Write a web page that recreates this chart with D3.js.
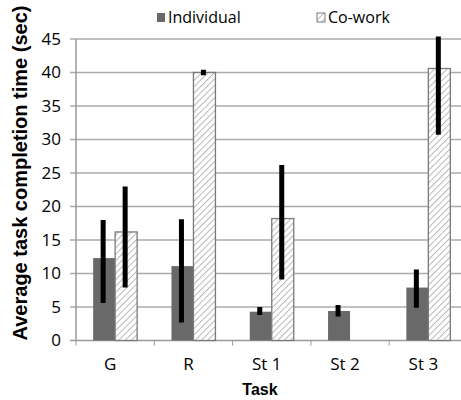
<!DOCTYPE html>
<html>
<head>
<meta charset="utf-8">
<script src="https://cdn.jsdelivr.net/npm/d3@7"></script>
<style>
    body { margin: 0; background: #fff; }
    .chart-label { font-family: "Open Sans", sans-serif; font-size: 17px; fill: #000; }
    .chart-legend { font-family: "Open Sans", sans-serif; font-size: 16px; fill: #000; }
    .chart-title { font-family: "Liberation Sans", Arial, sans-serif; font-weight: bold; fill: #000; }
</style>
</head>
<body>
<div id="chart"></div>
<script>
// Data
var tasks = ["G", "R", "St 1", "St 2", "St 3"];
var seriesNames = ["Individual", "Co-work"];
var individual = [12.3, 11.1, 4.3, 4.4, 7.9];
var cowork = [16.2, 40.0, 18.2, null, 40.6];
var individualLow = [5.6, 2.7, 3.8, 3.6, 4.9];
var individualHigh = [18.0, 18.1, 5.0, 5.3, 10.6];
var coworkLow = [7.9, 39.6, 9.1, null, 30.7];
var coworkHigh = [23.0, 40.4, 26.2, null, 50.5];
var yTicks = [0, 5, 10, 15, 20, 25, 30, 35, 40, 45];

var width = 461, height = 400;
var margin = { top: 39, right: -6.5, bottom: 59.5, left: 76 };

var svg = d3.select("#chart").append("svg")
    .attr("width", width)
    .attr("height", height);

// Hatch pattern for co-work bars
var defs = svg.append("defs");
defs.append("pattern")
    .attr("id", "hatch")
    .attr("patternUnits", "userSpaceOnUse")
    .attr("width", 4.5)
    .attr("height", 4.5)
    .attr("patternTransform", "rotate(45)")
    .call(function (p) {
        p.append("rect").attr("width", 4.5).attr("height", 4.5).attr("fill", "#fff");
        p.append("line").attr("x1", 0).attr("y1", 0).attr("x2", 0).attr("y2", 4.5)
            .attr("stroke", "#b8b8b8").attr("stroke-width", 2);
    });
defs.append("clipPath").attr("id", "plotClip")
    .append("rect")
    .attr("x", 0).attr("y", margin.top - 2.5)
    .attr("width", width).attr("height", height);

// Scales
var x0 = d3.scaleBand()
    .domain(tasks)
    .range([margin.left, width - margin.right])
    .paddingInner(0)
    .paddingOuter(0);
var x1 = d3.scaleBand()
    .domain(seriesNames)
    .range([0, x0.bandwidth()])
    .paddingInner(0)
    .paddingOuter(0.78);
var y = d3.scaleLinear()
    .domain([0, 45])
    .range([height - margin.bottom, margin.top]);

// Gridlines + y ticks
svg.append("g").selectAll("line")
    .data(yTicks)
    .enter()
    .append("line")
    .attr("x1", margin.left - 6)
    .attr("x2", width)
    .attr("y1", function (d) { return y(d); })
    .attr("y2", function (d) { return y(d); })
    .attr("stroke", function (d) { return d === 0 ? "#9a9a9a" : "#ababab"; })
    .attr("stroke-width", 1.5);

svg.append("g").selectAll("text")
    .data(yTicks)
    .enter()
    .append("text")
    .attr("class", "chart-label")
    .attr("x", margin.left - 15)
    .attr("y", function (d) { return y(d); })
    .attr("dy", "0.35em")
    .style("text-anchor", "end")
    .text(function (d) { return d; });

// Axis lines
svg.append("line")
    .attr("x1", margin.left).attr("x2", margin.left)
    .attr("y1", y(45)).attr("y2", y(0))
    .attr("stroke", "#9a9a9a").attr("stroke-width", 1.5);

var boundaries = tasks.map(function (t) { return x0(t); }).concat([x0(tasks[tasks.length - 1]) + x0.bandwidth()]);
svg.append("g").selectAll("line")
    .data(boundaries)
    .enter()
    .append("line")
    .attr("x1", function (d) { return d; })
    .attr("x2", function (d) { return d; })
    .attr("y1", y(0))
    .attr("y2", y(0) + 5)
    .attr("stroke", "#9a9a9a").attr("stroke-width", 1);

// Bars
var seriesData = [
    { name: "Individual", values: individual, low: individualLow, high: individualHigh },
    { name: "Co-work", values: cowork, low: coworkLow, high: coworkHigh }
];

var plot = svg.append("g").attr("clip-path", "url(#plotClip)");

seriesData.forEach(function (s) {
    var rows = tasks.map(function (t, i) {
        return { task: t, v: s.values[i], lo: s.low[i], hi: s.high[i] };
    }).filter(function (d) { return d.v != null; });

    plot.append("g").selectAll("rect")
        .data(rows)
        .enter()
        .append("rect")
        .attr("x", function (d) { return x0(d.task) + x1(s.name); })
        .attr("y", function (d) { return y(d.v); })
        .attr("width", x1.bandwidth())
        .attr("height", function (d) { return y(0) - y(d.v); })
        .attr("fill", s.name === "Individual" ? "#696969" : "url(#hatch)")
        .attr("stroke", s.name === "Individual" ? "none" : "#7a7a7a")
        .attr("stroke-width", 1.3);

    // Error bars
    plot.append("g").selectAll("line")
        .data(rows)
        .enter()
        .append("line")
        .attr("x1", function (d) { return x0(d.task) + x1(s.name) + x1.bandwidth() / 2 - 1; })
        .attr("x2", function (d) { return x0(d.task) + x1(s.name) + x1.bandwidth() / 2 - 1; })
        .attr("y1", function (d) { return y(d.lo); })
        .attr("y2", function (d) { return y(d.hi); })
        .attr("stroke", "#000")
        .attr("stroke-width", 5);
});

// Category labels
svg.append("g").selectAll("text")
    .data(tasks)
    .enter()
    .append("text")
    .attr("class", "chart-label")
    .attr("x", function (d) { return x0(d) + x0.bandwidth() / 2 - 5; })
    .attr("y", 370)
    .style("text-anchor", "middle")
    .text(function (d) { return d; });

// Axis titles
svg.append("text")
    .attr("class", "chart-title")
    .attr("x", 260)
    .attr("y", 395)
    .style("font-size", "16px")
    .style("text-anchor", "middle")
    .text("Task");

svg.append("text")
    .attr("class", "chart-title")
    .attr("transform", "translate(27,173) rotate(-90)")
    .style("font-size", "20px")
    .style("text-anchor", "middle")
    .text("Average task completion time (sec)");

// Legend
var legendX = [157, 317];
var legend = svg.append("g").selectAll("g")
    .data(seriesNames)
    .enter()
    .append("g")
    .attr("transform", function (d, i) { return "translate(" + legendX[i] + ",13)"; });
legend.append("rect")
    .attr("width", 8)
    .attr("height", 9)
    .attr("fill", function (d) { return d === "Individual" ? "#696969" : "url(#hatch)"; })
    .attr("stroke", function (d) { return d === "Individual" ? "none" : "#7a7a7a"; })
    .attr("stroke-width", 1);
legend.append("text")
    .attr("class", "chart-legend")
    .attr("x", 11)
    .attr("y", 10)
    .text(function (d) { return d; });
</script>
</body>
</html>
